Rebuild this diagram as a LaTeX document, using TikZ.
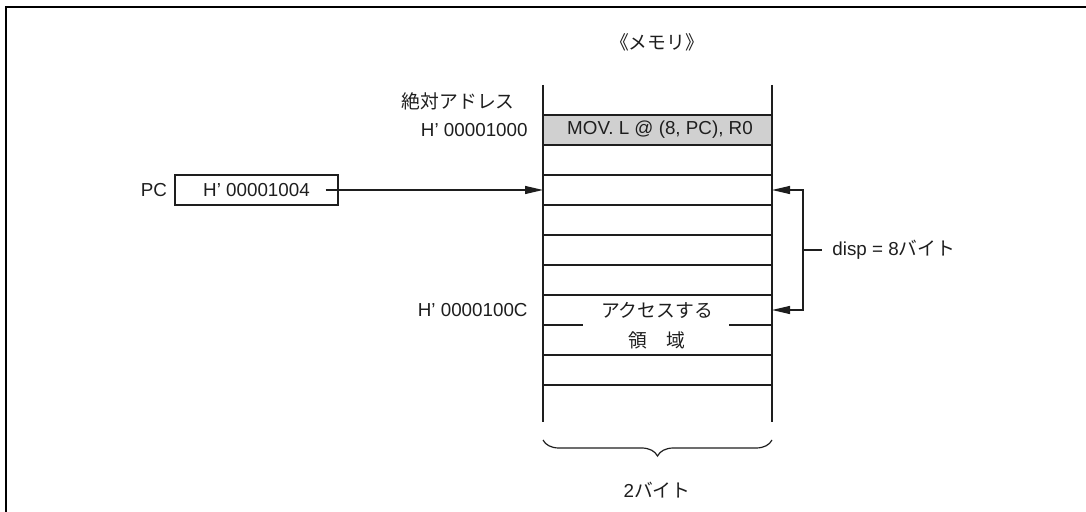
\documentclass[tikz,border=0pt]{standalone}
\usepackage{fontspec}
\setmainfont{Liberation Sans}
\newfontfamily\jp{Noto Sans CJK JP}
\usetikzlibrary{arrows.meta, positioning, decorations.pathreplacing}
\definecolor{cellgray}{RGB}{208,208,208}
\definecolor{ink}{RGB}{30,30,30}

\begin{document}
\begin{tikzpicture}[
  x=0.5pt, y=-0.5pt,
  font=\fontsize{9.4}{11}\selectfont,
  line/.style={draw=ink, line width=0.6pt},
  reg/.style={rectangle, draw=ink, line width=0.6pt, minimum width=81.5pt,
    minimum height=15pt, inner sep=0pt, text=ink},
  arr/.style={-{Triangle[length=9pt, width=4pt]}, draw=ink, line width=0.6pt},
  darr/.style={{Triangle[length=9pt, width=4pt]}-{Triangle[length=9pt, width=4pt]}, draw=ink, line width=0.6pt},
  lbl/.style={inner sep=0pt, text=ink}
]
\useasboundingbox (0,0) rectangle (1086,512);
\draw[line width=1pt] (6,512) -- (6,7) -- (1086,7);
% memory column
\fill[cellgray] (543,115) rectangle (772,145);
\draw[line] (543,85) -- (543,422);
\draw[line] (772,85) -- (772,422);
\foreach \y in {115,145,175,205,235,265,295,355,385}
  \draw[line] (543,\y) -- (772,\y);
\draw[line] (543,325) -- (583,325);
\draw[line] (729,325) -- (772,325);
% labels
\node[lbl] (title) at (657,42) {\jp 《メモリ》};
\node[lbl, anchor=east] (abs) at (515,101) {\jp 絶対アドレス};
\node[lbl, anchor=east] (a1000) at (528,130) {H' 00001000};
\node[lbl] (mov) at (660,130) {MOV. L @ (8, PC), R0};
\node[lbl, anchor=east] (a100c) at (528,310) {H' 0000100C};
\node[lbl] (acc) at (657,310) {\jp アクセスする};
\node[lbl] (area) at (657,340) {\jp 領　域};
% PC register
\node[reg] (pcreg) at (256.5,190) {H' 00001004};
\node[lbl, left=3.5pt of pcreg] (pc) {PC};
\coordinate (pctip) at (543,190);
\draw[arr] ([xshift=-6.5pt]pcreg.east) -- (pctip);
% displacement
\coordinate (d1) at (772,190);
\coordinate (d2) at (772,310);
\coordinate (b1) at (803,190);
\coordinate (b2) at (803,310);
\draw[darr] (d1) -- (b1) -- (b2) -- (d2);
\node[lbl, anchor=west] (disp) at (832,250) {disp = 8{\jp バイト}};
\draw[line] (803,250) -- ([xshift=-5pt]disp.west);
% width
\draw[line, decorate, decoration={brace, mirror, amplitude=8pt}] (543,440) -- (772,440);
\node[lbl] (bytes) at (657,490) {2{\jp バイト}};
\end{tikzpicture}
\end{document}
